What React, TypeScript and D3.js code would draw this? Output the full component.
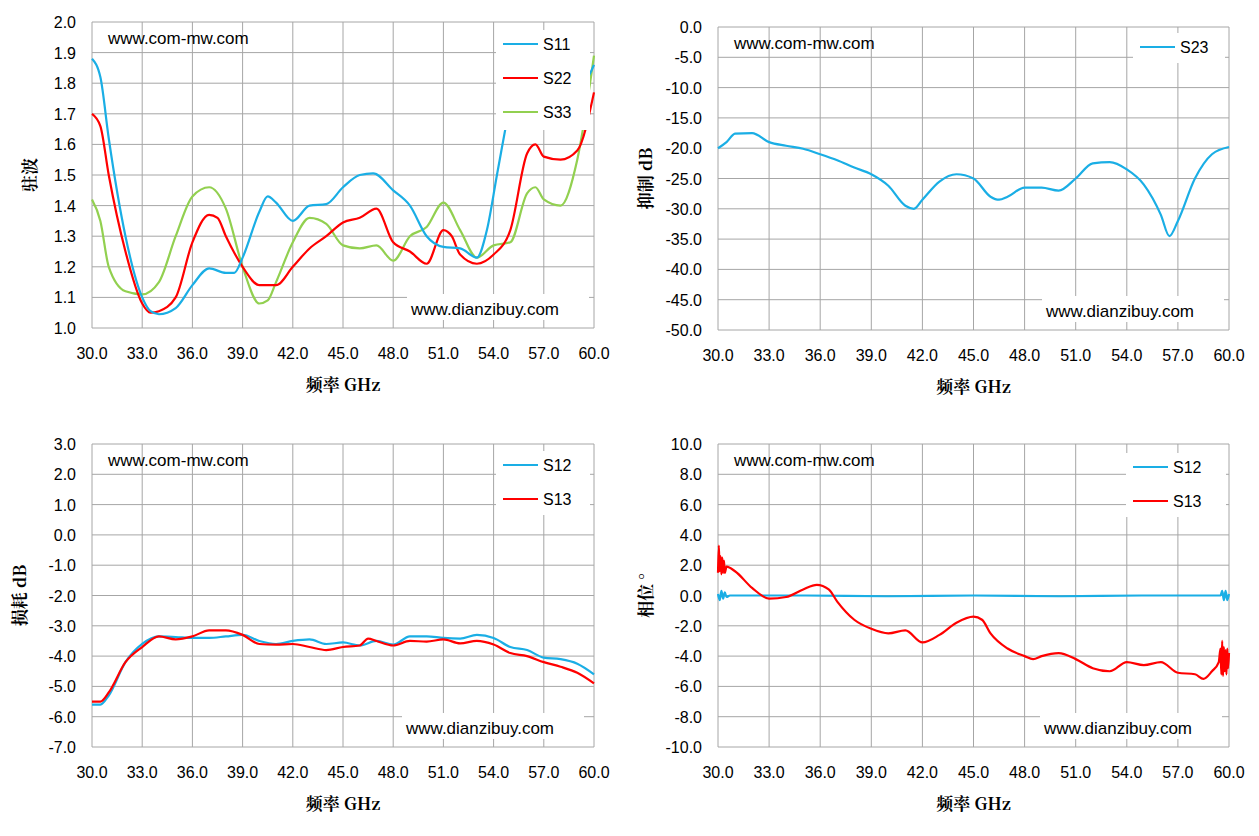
import React from 'react';
import * as d3 from 'd3';

type P = [number, number];

// VSWR
const s11a: P[] = [[30,1.88],[30.5,1.82],[31,1.62],[32,1.3],[33,1.1],[33.5,1.055],[34,1.045],[35,1.065],[36,1.14],[37,1.195],[38,1.18],[38.5,1.18],[39,1.23],[40,1.38],[40.5,1.43],[41,1.41],[42,1.35],[43,1.4],[44,1.405],[45,1.46],[46,1.5],[46.8,1.505],[48,1.45],[49,1.4],[50,1.3],[51,1.265],[52,1.26],[53,1.23],[53.6,1.32],[54.2,1.5],[54.7,1.65]];
const s11b: P[] = [[59,1.8],[59.5,1.81],[60,1.86]];
const s22: P[] = [[30,1.7],[30.5,1.66],[31,1.5],[32,1.25],[33,1.08],[33.5,1.05],[34,1.055],[35,1.1],[36,1.28],[37,1.37],[37.5,1.36],[38,1.3],[39,1.2],[40,1.14],[41,1.14],[42,1.2],[43,1.26],[44,1.3],[45,1.345],[46,1.36],[47,1.39],[48,1.28],[49,1.25],[50,1.21],[51,1.32],[51.5,1.3],[52,1.24],[53,1.21],[54,1.24],[55,1.32],[56,1.57],[56.5,1.6],[57,1.56],[58,1.55],[59,1.58],[60,1.77]];
const s33: P[] = [[30,1.42],[30.5,1.35],[31,1.2],[32,1.12],[33,1.11],[34,1.15],[35,1.3],[36,1.43],[37,1.46],[38,1.39],[39,1.2],[40,1.08],[40.5,1.09],[41,1.15],[42,1.28],[43,1.36],[44,1.34],[45,1.27],[46,1.26],[47,1.27],[48,1.22],[49,1.3],[50,1.33],[51,1.41],[52,1.32],[53,1.23],[54,1.27],[55,1.28],[56,1.44],[56.5,1.46],[57,1.42],[58,1.4],[59,1.55],[60,1.89]];

// rejection
const s23: P[] = [[30,-20],[30.5,-19],[31,-17.6],[32,-17.5],[33,-19],[34,-19.6],[35,-20.1],[36,-21],[37,-22],[38,-23.2],[39,-24.3],[40,-26.2],[41,-29.5],[41.5,-30],[42,-28.5],[43,-25.5],[44,-24.3],[45,-25],[46,-28],[46.5,-28.5],[47,-28],[48,-26.5],[49,-26.5],[50,-27],[51,-25],[52,-22.5],[53,-22.3],[54,-23.5],[55,-26],[56,-31],[56.5,-34.5],[57,-32],[58,-25],[59,-21],[60,-19.8]];

// insertion loss
const l12: P[] = [[30,-5.6],[30.5,-5.6],[31,-5.3],[32,-4.2],[33,-3.6],[34,-3.35],[35,-3.37],[36,-3.4],[37,-3.4],[38,-3.35],[39,-3.3],[40,-3.5],[41,-3.6],[42,-3.5],[43,-3.45],[44,-3.6],[45,-3.55],[46,-3.65],[47,-3.5],[48,-3.62],[49,-3.35],[50,-3.35],[51,-3.4],[52,-3.42],[53,-3.3],[54,-3.4],[55,-3.7],[56,-3.8],[57,-4.05],[58,-4.1],[59,-4.25],[60,-4.6]];
const l13: P[] = [[30,-5.5],[30.5,-5.5],[31,-5.2],[32,-4.2],[33,-3.7],[34,-3.35],[35,-3.45],[36,-3.35],[37,-3.15],[38,-3.15],[39,-3.3],[40,-3.6],[41,-3.62],[42,-3.6],[43,-3.7],[44,-3.8],[45,-3.7],[46,-3.65],[46.5,-3.42],[47,-3.5],[48,-3.65],[49,-3.5],[50,-3.52],[51,-3.45],[52,-3.58],[53,-3.5],[54,-3.62],[55,-3.9],[56,-4.0],[57,-4.2],[58,-4.35],[59,-4.55],[60,-4.9]];

// phase
const p12: P[] = [[30,0.1],[30.1,-0.3],[30.2,0.3],[30.3,-0.2],[30.4,0.2],[30.5,-0.1],[30.7,0],[35,0],[40,-0.05],[45,0],[50,-0.05],[55,0],[59.5,0],[59.6,0.3],[59.7,-0.3],[59.8,0.3],[59.9,-0.3],[60,0.1]];
const p13: P[] = [[30,1.5],[30.05,3.3],[30.1,1.6],[30.15,2.6],[30.2,1.4],[30.25,2.5],[30.3,1.5],[30.35,2.3],[30.4,1.5],[30.5,1.9],[31,1.6],[32,0.5],[33,-0.2],[34,-0.1],[35,0.4],[35.8,0.7],[36.5,0.4],[37,-0.4],[38,-1.6],[39,-2.2],[40,-2.5],[41,-2.3],[42,-3.1],[43,-2.6],[44,-1.8],[45,-1.4],[45.5,-1.6],[46,-2.5],[47,-3.5],[48,-4.0],[48.5,-4.2],[49,-4.0],[50,-3.8],[51,-4.2],[52,-4.8],[53,-5.0],[54,-4.4],[55,-4.6],[56,-4.4],[57,-5.1],[58,-5.2],[58.5,-5.5],[59,-5.0],[59.4,-4.4],[59.5,-3.5],[59.55,-5.2],[59.6,-3.0],[59.65,-5.3],[59.7,-3.4],[59.75,-5.0],[59.8,-3.6],[59.85,-5.2],[59.9,-3.5],[59.95,-4.8],[60,-3.8]];

const xTicks = d3.range(30, 60.01, 3);
const BLUE = '#1aaee5', RED = '#ff0000', GREEN = '#92d050';

interface Series { data: P[][]; color: string; name?: string }
interface PanelProps {
  x0: number; x1: number; y0: number; y1: number;
  dom: [number, number]; step: number; ylabel: string; ylabelX: number;
  series: Series[]; legend: { name: string; color: string }[];
  legendBox: [number, number, number, number];
  wm2x: number;
}

const Panel: React.FC<PanelProps> = (p) => {
  const x = d3.scaleLinear().domain([30, 60]).range([p.x0, p.x1]);
  const y = d3.scaleLinear().domain(p.dom).range([p.y1, p.y0]);
  const yTicks = d3.range(p.dom[0], p.dom[1] + p.step / 2, p.step);
  const line = d3.line<P>().x(d => x(d[0])).y(d => y(d[1])).curve(d3.curveMonotoneX);
  const [lx, ly, lw, lh] = p.legendBox;
  const font = 'Liberation Sans, Arial, sans-serif';
  return (
    <g>
      {yTicks.map(t => (
        <g key={'y' + t}>
          <line x1={p.x0} x2={p.x1} y1={y(t)} y2={y(t)} stroke="#a6a6a6" strokeWidth={1} />
          <text x={p.x0 - 16} y={y(t) + 6} textAnchor="end" fontSize={16} fontFamily={font}>{t.toFixed(1)}</text>
        </g>
      ))}
      {xTicks.map(t => (
        <g key={'x' + t}>
          <line x1={x(t)} x2={x(t)} y1={p.y0} y2={p.y1} stroke="#a6a6a6" strokeWidth={1} />
          <text x={x(t)} y={p.y1 + 31} textAnchor="middle" fontSize={16} fontFamily={font}>{t.toFixed(1)}</text>
        </g>
      ))}
      <text x={(p.x0 + p.x1) / 2} y={p.y1 + 63} textAnchor="middle" fontSize={17} fontWeight="bold" fontFamily="'Noto Serif CJK SC', 'DejaVu Serif', serif">频率  GHz</text>
      <text transform={`translate(${p.ylabelX},${(p.y0 + p.y1) / 2}) rotate(-90)`} textAnchor="middle" fontSize={17} fontWeight="bold" fontFamily="'Noto Serif CJK SC', 'DejaVu Serif', serif">{p.ylabel}</text>
      <text x={p.x0 + 16} y={p.y0 + 22} fontSize={17} fontFamily={font}>www.com-mw.com</text>
      {p.series.map((s, i) => s.data.map((d, j) => (
        <path key={`s${i}-${j}`} d={line(d) || ''} fill="none" stroke={s.color} strokeWidth={2.2} />
      )))}
      <rect x={p.wm2x - 4} y={p.y1 - 34} width={182} height={26} fill="#fff" />
      <text x={p.wm2x} y={p.y1 - 13} fontSize={17} fontFamily={font}>www.dianzibuy.com</text>
      <rect x={lx} y={ly} width={lw} height={lh} fill="#fff" />
      {p.legend.map((l, i) => (
        <g key={l.name}>
          <line x1={lx + 7} x2={lx + 42} y1={ly + 14 + i * 34} y2={ly + 14 + i * 34} stroke={l.color} strokeWidth={2.2} />
          <text x={lx + 47} y={ly + 20 + i * 34} fontSize={16} fontFamily={font}>{l.name}</text>
        </g>
      ))}
    </g>
  );
};

const App: React.FC = () => (
  <svg width={1251} height={828} style={{ display: 'block', background: '#fff' }}>
    <g transform="translate(-8,-8)">
      <Panel x0={92} x1={594} y0={22} y1={328} dom={[1, 2]} step={0.1} ylabel="驻波" ylabelX={36} wm2x={411}
        series={[{ data: [s33], color: GREEN }, { data: [s22], color: RED }, { data: [s11a, s11b], color: BLUE }]}
        legend={[{ name: 'S11', color: BLUE }, { name: 'S22', color: RED }, { name: 'S33', color: GREEN }]}
        legendBox={[496, 30, 94, 100]} />
      <Panel x0={718} x1={1229} y0={27} y1={330} dom={[-50, 0]} step={5} ylabel="抑制 dB" ylabelX={652} wm2x={1046}
        series={[{ data: [s23], color: BLUE }]}
        legend={[{ name: 'S23', color: BLUE }]}
        legendBox={[1133, 33, 92, 30]} />
      <Panel x0={92} x1={594} y0={444} y1={747} dom={[-7, 3]} step={1} ylabel="损耗 dB" ylabelX={26} wm2x={406}
        series={[{ data: [l12], color: BLUE }, { data: [l13], color: RED }]}
        legend={[{ name: 'S12', color: BLUE }, { name: 'S13', color: RED }]}
        legendBox={[496, 451, 94, 64]} />
      <Panel x0={718} x1={1229} y0={444} y1={747} dom={[-10, 10]} step={2} ylabel="相位 °" ylabelX={652} wm2x={1044}
        series={[{ data: [p12], color: BLUE }, { data: [p13], color: RED }]}
        legend={[{ name: 'S12', color: BLUE }, { name: 'S13', color: RED }]}
        legendBox={[1126, 453, 100, 64]} />
    </g>
  </svg>
);

export default App;
